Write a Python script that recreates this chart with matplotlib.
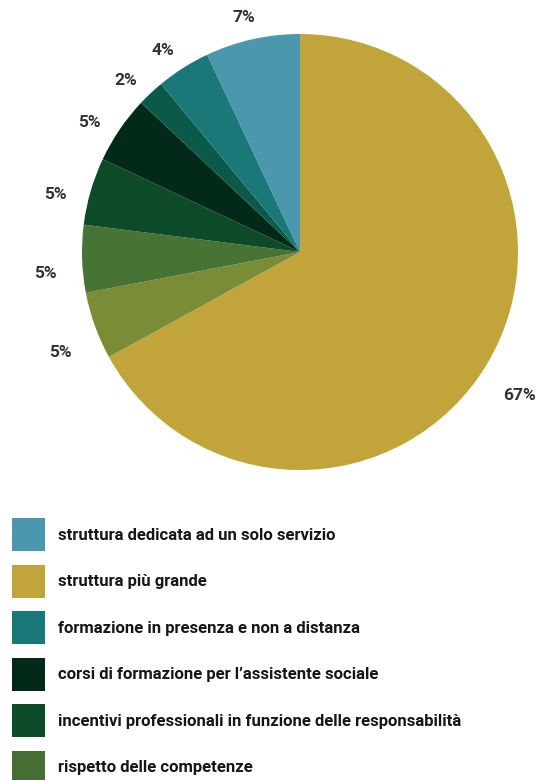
import matplotlib
matplotlib.use("Agg")
import matplotlib.pyplot as plt
from matplotlib.patches import Patch

# data (clockwise from 12 o'clock)
slice_values = [67, 5, 5, 5, 5, 2, 4, 7]
slice_labels = ["67%", "5%", "5%", "5%", "5%", "2%", "4%", "7%"]
slice_colors = ["#c2a53a", "#7a8c36", "#477335", "#0d4a28", "#032a19",
                "#0b5948", "#1a7878", "#4b97ad"]

legend_labels = [
    "struttura dedicata ad un solo servizio",
    "struttura più grande",
    "formazione in presenza e non a distanza",
    "corsi di formazione per l\u2019assistente sociale",
    "incentivi professionali in funzione delle responsabilità",
    "rispetto delle competenze",
]
legend_colors = ["#4b97ad", "#c2a53a", "#19777a", "#032a19", "#0c4a28", "#466e34"]

W, H = 545, 780
fig = plt.figure(figsize=(W / 100, H / 100), dpi=100)
plt.rcParams['font.family'] = ['Roboto', 'DejaVu Sans']

cx, cy, r = 300, 252, 218
ax = fig.add_axes([(cx - r) / W, (H - cy - r) / H, 2 * r / W, 2 * r / H])
wedges, texts = ax.pie(slice_values, labels=slice_labels, colors=slice_colors,
                       startangle=90, counterclock=False, labeldistance=1.17,
                       wedgeprops=dict(linewidth=0),
                       textprops=dict(fontsize=12.5, fontweight='bold', color='#2e3338'))
for t in texts:
    x, y = t.get_position()
    t.set_position((x, y - 0.064))
    t.set_ha('center')
    t.set_va('center')
ax.set_xlim(-1, 1)
ax.set_ylim(-1, 1)
ax.set_aspect('equal')
ax.axis('off')

handles = [Patch(facecolor=c, edgecolor='none') for c in legend_colors]
fs = 12
fig.legend(handles, legend_labels, loc='upper left',
           bbox_to_anchor=(12 / W, 1 - 518 / H),
           frameon=False, prop=dict(weight='bold', size=fs),
           labelcolor='#161616',
           handlelength=1.98, handleheight=2.67, handletextpad=0.78,
           labelspacing=0.81, borderaxespad=0, borderpad=0)

fig.savefig("out.png", dpi=100)
